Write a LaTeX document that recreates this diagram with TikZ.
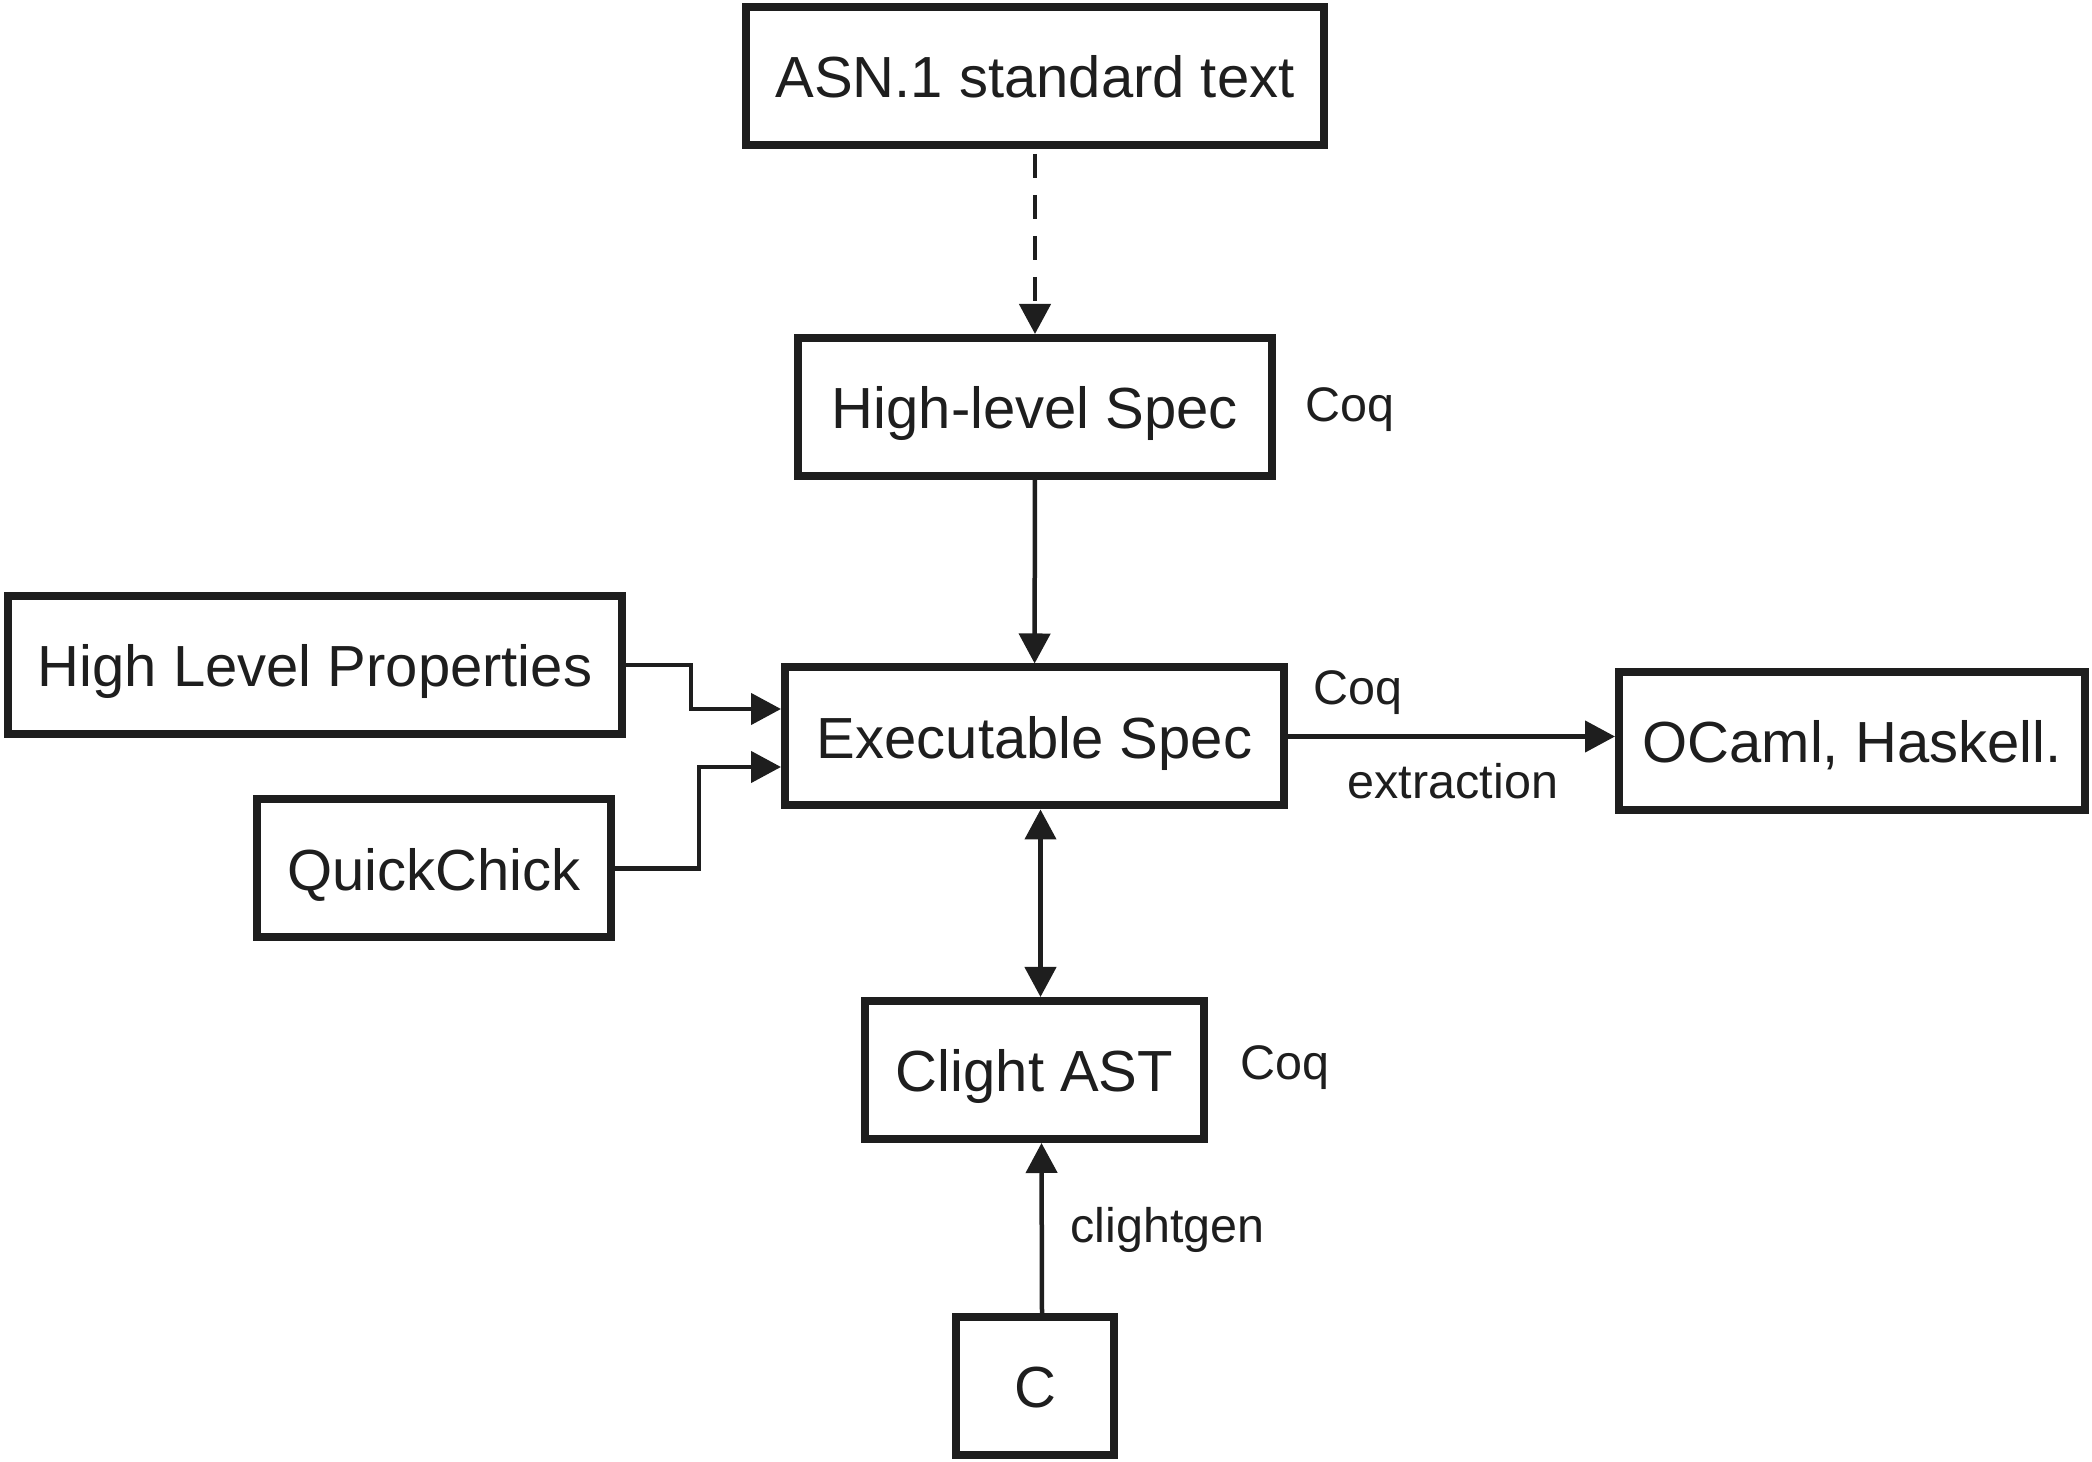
\documentclass[tikz,border=0pt]{standalone}
\usepackage{fontspec}
\setmainfont{Liberation Sans}
\usetikzlibrary{arrows.meta}
\definecolor{ink}{RGB}{30,30,30}
\tikzset{every path/.style={ink}, 
  box/.style={draw=ink, line width=0.08cm, fill=white, inner sep=0pt, minimum height=1.38cm, text height=0.44cm, text depth=0cm, font=\fontsize{16.5}{20}\selectfont},
  tip/.tip={Triangle[length=0.3cm,width=0.31cm]},
  conn/.style={line width=0.045cm, -tip},
  lbl/.style={anchor=base west, inner sep=0pt, font=\fontsize{13.8}{16}\selectfont}}

\begin{document}
\begin{tikzpicture}
   \useasboundingbox (0,0) rectangle (20.92,-14.62);
   \begin{scope}
    \node[box, minimum width=5.78cm] (asn)    at (10.35,-0.76)   {ASN.1 standard text};
    \node[box, minimum width=4.74cm] (hls)    at (10.35,-4.07)   {High-level Spec};
    \node[box, minimum width=4.99cm] (exe)    at (10.345,-7.365) {Executable Spec};
    \node[box, minimum width=6.14cm] (hlp)    at (3.15,-6.65)    {High Level Properties};
    \node[box, minimum width=3.54cm] (qc)     at (4.34,-8.685)   {QuickChick};
    \node[box, minimum width=4.66cm] (ocaml)  at (18.52,-7.41)   {OCaml, Haskell.};
    \node[box, minimum width=3.39cm] (clight) at (10.345,-10.70) {Clight AST};
    \node[box, minimum width=1.58cm] (c)      at (10.35,-13.86)  {C};

    \node[lbl] (coqa) at (13.05,-4.22)  {Coq};
    \node[lbl] (coqb) at (13.13,-7.05)  {Coq};
    \node[lbl] (ext)  at (13.47,-7.99)  {extraction};
    \node[lbl] (coqc) at (12.40,-10.80) {Coq};
    \node[lbl] (gen)  at (10.70,-12.43) {clightgen};

    \draw[conn, dash pattern=on 0.24cm off 0.17cm] ([yshift=-0.05cm]asn.south) -- (hls.north);
    \draw[conn] (hls) -- (exe);
    \draw[conn] (hlp.east) -- ++(0.65,0) |- ([yshift=0.275cm]exe.west);
    \draw[conn] (qc.east)  -- ++(0.84,0) |- ([yshift=-0.305cm]exe.west);
    \draw[conn] (exe.east) -- (exe.east -| ocaml.west);
    \draw[conn, tip-tip] ([xshift=0.06cm]exe.south) -- ([xshift=0.06cm]clight.north);
    \draw[conn] ([xshift=0.07cm]c.north) -- ([xshift=0.07cm]clight.south);
   \end{scope}
\end{tikzpicture}
\end{document}
